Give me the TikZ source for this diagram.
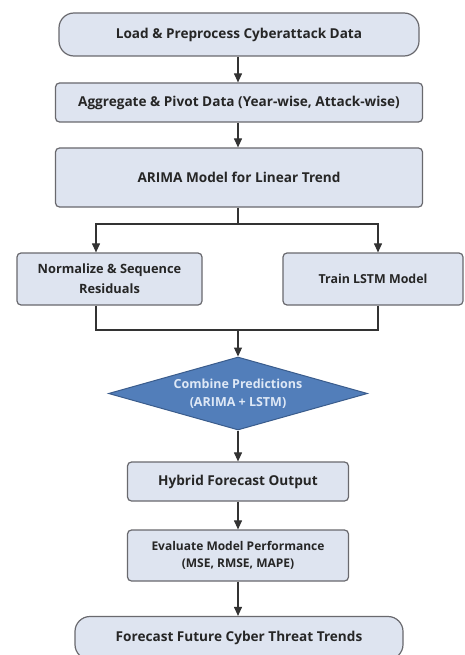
\documentclass[tikz,border=0pt]{standalone}
\usepackage{fontspec}
\setmainfont{Open Sans}
\usetikzlibrary{shapes.geometric,arrows.meta}

\definecolor{boxfill}{RGB}{222,228,240}
\definecolor{boxline}{RGB}{105,105,110}
\definecolor{combfill}{RGB}{82,126,186}
\definecolor{combline}{RGB}{58,92,140}
\definecolor{combtext}{RGB}{222,232,246}

\tikzset{
	stage/.style={draw=boxline, fill=boxfill, line width=1.2pt, rounded corners=4pt, inner sep=0pt, align=center, text=black!85, font=\bfseries\fontsize{13.6}{17}\selectfont},
	terminal/.style={stage, rounded corners=15pt},
	decision/.style={diamond, aspect=3.5, draw=combline, fill=combfill, line width=1pt, inner sep=0pt, align=center, text=combtext, font=\bfseries\fontsize{12.5}{18}\selectfont},
	wire/.style={draw=black!80, line width=1.1pt},
	flow/.style={wire, -{Triangle[length=9pt,width=8pt]}}
}

\begin{document}
\begin{tikzpicture}[x=1pt,y=-1pt]
	\useasboundingbox (0,0) rectangle (464,655);
	\fill[white] (0,0) rectangle (464,655);

	\node[terminal, minimum width=360pt, minimum height=43pt] (load) at (239,34.5) {Load \& Preprocess Cyberattack Data};
	\node[stage, minimum width=367pt, minimum height=39pt] (aggr) at (239,102.5) {Aggregate \& Pivot Data (Year-wise, Attack-wise)};
	\node[stage, minimum width=367pt, minimum height=59pt] (arima) at (239,177.5) {ARIMA Model for Linear Trend};
	\node[stage, minimum width=185pt, minimum height=52pt, font=\bfseries\fontsize{12.8}{20}\selectfont] (norm) at (109.5,279) {Normalize \& Sequence\\Residuals};
	\node[stage, minimum width=180pt, minimum height=52pt, font=\bfseries\fontsize{12.4}{17}\selectfont] (lstm) at (373,279) {Train LSTM Model};
	\node[decision, minimum width=259pt, minimum height=73pt] (comb) at (238,393.5) {Combine Predictions\\(ARIMA + LSTM)};
	\node[stage, minimum width=221pt, minimum height=39pt] (hybrid) at (238,481.5) {Hybrid Forecast Output};
	\node[stage, minimum width=221pt, minimum height=51pt, font=\bfseries\fontsize{12}{17.5}\selectfont] (eval) at (238,555.5) {Evaluate Model Performance\\(MSE, RMSE, MAPE)};
	\node[terminal, minimum width=328pt, minimum height=43pt] (future) at (239,638) {Forecast Future Cyber Threat Trends};

	\coordinate (split) at (238,224);
	\coordinate (join) at (238,330);

	\draw[flow] (load.south -| split) -- (aggr.north -| split);
	\draw[flow] (aggr.south -| split) -- (arima.north -| split);
	\draw[wire] (arima.south -| split) -- (split);
	\draw[flow] (split) -| ([xshift=-13.5pt]norm.north);
	\draw[flow] (split) -| ([xshift=5pt]lstm.north);
	\draw[wire] ([xshift=-13.5pt]norm.south) |- (join);
	\draw[wire] ([xshift=5pt]lstm.south) |- (join);
	\draw[flow] (join) -- (comb);
	\draw[flow] (comb) -- (hybrid);
	\draw[flow] (hybrid) -- (eval);
	\draw[flow] (eval.south -| split) -- (future.north -| split);
\end{tikzpicture}
\end{document}
